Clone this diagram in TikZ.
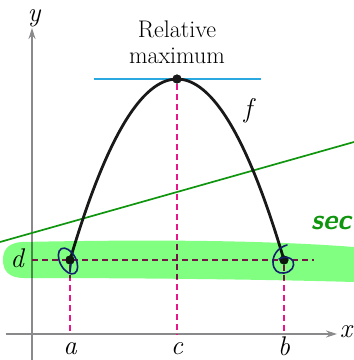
\documentclass[tikz,border=0pt]{standalone}
\usepackage{fontspec}
\usetikzlibrary{arrows.meta}
\definecolor{axisgray}{HTML}{8A8A8C}
\definecolor{magline}{HTML}{E8168A}
\definecolor{tanblue}{HTML}{29A9E0}
\definecolor{secgreen}{HTML}{10950F}
\definecolor{hilite}{HTML}{80FF80}
\definecolor{penblue}{HTML}{14206E}
\tikzset{
  axis/.style={draw=axisgray, line width=1.1pt, -{Stealth[length=11pt,width=7pt]}},
  guide/.style={draw=magline, line width=1.1pt, dash pattern=on 6pt off 4pt},
  curvef/.style={draw=black!90, line width=2.8pt},
  pt/.style={circle, fill=black!90, inner sep=0pt, minimum size=9pt},
  lab/.style={font=\fontsize{27}{27}\selectfont\itshape, inner sep=0pt},
  pen/.style={draw=penblue, line width=1.6pt, line cap=round, line join=round}
}
\begin{document}
\begin{tikzpicture}[x=1pt, y=-1pt]
\useasboundingbox (0,0) rectangle (354,360);
% axes
\coordinate (yb) at (32,360);
\coordinate (yt) at (32,28);
\coordinate (xl) at (6,334);
\coordinate (xr) at (337,334);
\draw[axis] (yb) -- (yt);
\draw[axis] (xl) -- (xr);
\node[lab] (ylab) at (34,18) {y};
\node[lab] (xlab) at (346,332) {x};
% points
\node[pt] (pa) at (70,260) {};
\node[pt] (pc) at (177,79) {};
\node[pt] (pb) at (284,260) {};
\coordinate (ax) at (70,334);
\coordinate (cx) at (177,334);
\coordinate (bx) at (284,334);
\coordinate (dy) at (32,260);
\coordinate (dr) at (314,260);
% guides
\draw[guide] (pa) -- (ax);
\draw[guide] (pc) -- (cx);
\draw[guide] (pb) -- (bx);
\draw[guide] (dy) -- (dr);
% tangent
\coordinate (tl) at (94,79);
\coordinate (tr) at (261,79);
\draw[draw=tanblue, line width=1.3pt] (tl) -- (tr);
% secant
\coordinate (sl) at (0,242);
\coordinate (sr) at (354,142);
\draw[draw=secgreen, line width=1.7pt] (sl) -- (sr);
% curve
\draw[curvef] (pa.center) .. controls (141.3,18.7) and (212.7,18.7) .. (pb.center);
\node[pt] at (pa) {};
\node[pt] at (pb) {};
\node[pt] at (pc) {};
% labels
\node[lab] (alab) at (70,349) {a};
\node[lab] (clab) at (177,349) {c};
\node[lab] (blab) at (284,346) {b};
\node[lab] (dlab) at (17,258) {d};
\node[lab] (flab) at (248,111) {f};
\node[font=\fontsize{24}{26}\selectfont, align=center, inner sep=0pt] (rel) at (177,42) {Relative\\maximum};
% highlight band
\begin{scope}[blend mode=multiply]
\fill[hilite] (354,247) .. controls (250,239) and (120,240) .. (22,242)
  .. controls (6,243) and (3,252) .. (3,260)
  .. controls (3,270) and (8,278) .. (24,278)
  .. controls (120,278) and (250,279) .. (354,282) -- cycle;
\end{scope}
% pen marks
\draw[pen, rotate around={28:(68,261)}] (68,261) ellipse (8pt and 14pt);
\draw[pen] (71,264) -- (70,272);
\draw[pen] (287,245) .. controls (280,247) and (273,253) .. (273,262)
  .. controls (273,270) and (278,274) .. (284,273)
  .. controls (292,272) and (295,266) .. (293,261)
  .. controls (291,257) and (284,256) .. (279,259);
% handwritten note
\begin{scope}
\clip (0,0) rectangle (354,360);
\node[font=\fontsize{28}{30}\selectfont\sffamily\bfseries\itshape, text=secgreen, anchor=west, inner sep=0pt] (sec) at (311,223) {sec};
\end{scope}
\end{tikzpicture}
\end{document}
